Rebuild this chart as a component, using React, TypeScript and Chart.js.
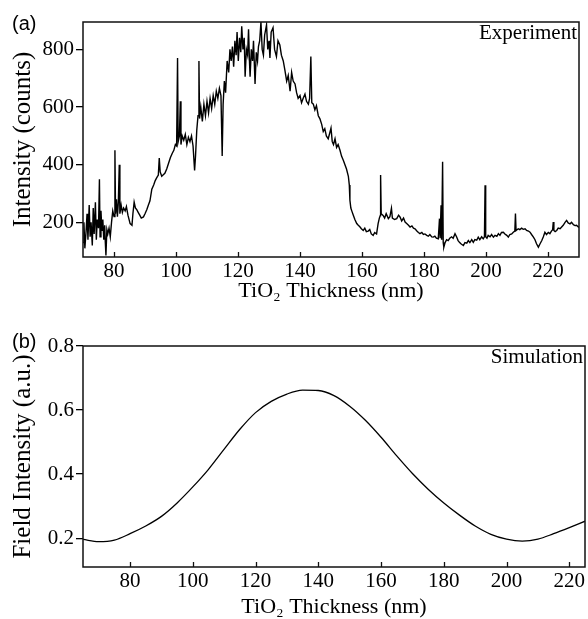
import React, { useEffect, useRef } from 'react';
import { Chart, registerables } from 'chart.js';

Chart.register(...registerables);

// ---------- Data ----------
const expX = [
  70, 70.3, 70.6, 71, 71.3, 71.6, 72, 72.3, 72.6, 73, 73.3, 73.6, 74, 74.3, 74.6, 75, 75.3, 75.5, 75.8, 76.1,
  76.4, 76.7, 77, 77.2, 77.4, 77.7, 78, 78.4, 78.8, 79.2, 79.6, 80, 80.3, 80.5, 80.8, 81.1, 81.4, 81.7, 81.9, 82.3,
  82.7, 83.1, 83.6, 84, 84.5, 85.2, 85.8, 86.1, 86.5, 86.9, 87.3, 87.8, 88.3, 88.8, 89.5, 90, 90.6, 91.1, 91.6, 92.2,
  92.8, 93.3, 93.8, 94.3, 94.6, 94.9, 95.4, 95.9, 96.4, 97, 97.6, 98.2, 98.8, 99.3, 99.8, 100.2, 100.5, 100.7, 101.1, 101.4,
  101.6, 102, 102.5, 103, 103.5, 104, 104.5, 105, 105.5, 106, 106.3, 106.7, 107.1, 107.4, 107.6, 108, 108.5, 109, 109.5, 110,
  110.5, 111, 111.5, 112, 112.5, 113, 113.5, 114, 114.5, 114.9, 115.2, 115.6, 116, 116.5, 117, 117.4, 117.8, 118.2, 118.6, 119,
  119.4, 119.7, 120.1, 120.5, 120.9, 121.2, 121.6, 122, 122.3, 122.7, 123.1, 123.4, 123.7, 123.9, 124.3, 124.7, 125, 125.5, 125.9, 126.3,
  126.6, 127, 127.4, 127.8, 128.2, 128.6, 129.2, 129.6, 130, 130.3, 130.7, 131.3, 131.8, 132.4, 132.9, 133.5, 134, 134.6, 135.1, 135.7,
  136.2, 136.8, 137.3, 137.8, 138.4, 138.9, 139.4, 140, 140.5, 141, 141.6, 142.1, 142.7, 143.1, 143.5, 143.8, 144.3, 144.8, 145.3, 145.9,
  146.4, 147, 147.5, 148, 148.5, 149.1, 149.6, 150, 150.4, 150.8, 151.3, 151.8, 152.3, 152.9, 153.4, 154, 154.5, 155, 155.6, 155.9,
  156.1, 156.4, 156.7, 157.2, 157.7, 158.3, 158.8, 159.3, 159.8, 160.4, 160.9, 161.4, 162, 162.5, 163, 163.6, 164.1, 164.7, 165.2, 165.6,
  165.9, 166, 166.2, 166.8, 167.3, 167.8, 168.5, 169, 169.5, 169.8, 170.5, 171.2, 171.8, 172.3, 172.8, 173.4, 173.9, 174.5, 175, 175.5,
  176.1, 176.6, 177.1, 177.7, 178.2, 178.7, 179.3, 179.8, 180.3, 180.9, 181.4, 181.9, 182.5, 183, 183.5, 184, 184.6, 185, 185.2, 185.5,
  185.7, 186, 186.2, 186.4, 186.8, 187.3, 187.8, 188.3, 188.9, 189.4, 190, 190.5, 191, 191.5, 192, 192.7, 193.2, 193.8, 194.3, 194.8,
  195.4, 195.9, 196.4, 197, 197.5, 198, 198.6, 199.1, 199.5, 199.7, 199.9, 200.3, 200.7, 201.3, 201.8, 202.4, 202.9, 203.5, 204, 204.5,
  205, 205.6, 206.1, 206.7, 207.2, 207.7, 208.3, 208.8, 209.3, 209.5, 209.7, 210.4, 210.9, 211.5, 212, 212.6, 213.1, 213.7, 214.2, 214.7,
  215.3, 215.8, 216.3, 216.9, 217.4, 218, 218.5, 219, 219.5, 220.1, 220.6, 221.1, 221.5, 221.7, 221.9, 222.3, 222.8, 223.3, 223.9, 224.4,
  224.9, 225.5, 226, 226.5, 227.1, 227.6, 228.2, 228.7, 229.2, 229.8, 230,
];
const expY = [
  130, 200, 110, 170, 230, 140, 260, 150, 200, 120, 250, 160, 270, 140, 210, 180, 350, 150, 240, 170,
  210, 140, 190, 130, 85, 175, 160, 180, 150, 200, 240, 220, 450, 230, 280, 220, 270, 400, 230, 260,
  235, 250, 240, 255, 225, 196, 190, 230, 270, 250, 245, 235, 225, 215, 219, 230, 245, 260, 275, 315,
  330, 345, 355, 364, 423, 375, 360, 365, 370, 385, 405, 425, 440, 450, 470, 465, 770, 480, 500, 620,
  470, 500, 485, 505, 470, 495, 480, 500, 465, 380, 430, 520, 570, 760, 560, 600, 550, 610, 570, 620,
  580, 630, 595, 640, 610, 655, 630, 665, 640, 430, 610, 690, 650, 760, 720, 800, 760, 810, 740, 830,
  780, 860, 760, 840, 790, 880, 800, 840, 705, 800, 780, 870, 760, 705, 800, 760, 830, 680, 790, 760,
  810, 830, 895, 800, 780, 850, 885, 800, 830, 770, 860, 875, 800, 775, 830, 815, 780, 760, 730, 690,
  710, 655, 720, 690, 680, 650, 630, 640, 615, 630, 645, 620, 610, 630, 775, 615, 610, 590, 605, 570,
  560, 540, 515, 525, 500, 490, 510, 527, 480, 470, 490, 460, 470, 450, 430, 415, 400, 385, 360, 330,
  277, 250, 240, 225, 210, 196, 190, 185, 178, 172, 180, 168, 170, 175, 160, 155, 165, 160, 196, 215,
  224, 364, 230, 224, 215, 230, 213, 220, 249, 215, 210, 213, 225, 218, 205, 215, 201, 195, 190, 184,
  188, 180, 178, 170, 165, 161, 165, 158, 160, 155, 152, 158, 150, 149, 152, 145, 143, 213, 145, 259,
  140, 410, 130, 114, 130, 140, 137, 145, 150, 145, 161, 150, 137, 130, 125, 120, 130, 128, 137, 130,
  140, 131, 140, 138, 149, 140, 150, 143, 150, 329, 150, 145, 155, 150, 158, 149, 155, 152, 161, 155,
  165, 166, 160, 155, 149, 158, 160, 166, 170, 231, 172, 178, 175, 180, 176, 178, 172, 170, 166, 158,
  149, 140, 126, 114, 125, 137, 150, 166, 158, 165, 161, 170, 175, 201, 172, 168, 172, 180, 178, 184,
  190, 200, 207, 198, 195, 200, 192, 189, 190, 184, 186,
];

const simX = [65, 70, 75, 80, 85, 90, 95, 100, 105, 110, 115, 120, 125, 130, 135, 140, 145, 150, 155, 160, 165, 170, 175, 180, 185, 190, 195, 200, 205, 210, 215, 220, 225];
const simY = [0.196, 0.189, 0.194, 0.214, 0.238, 0.268, 0.31, 0.36, 0.415, 0.478, 0.54, 0.592, 0.627, 0.65, 0.662, 0.661, 0.645, 0.612, 0.568, 0.515, 0.457, 0.402, 0.353, 0.31, 0.272, 0.238, 0.212, 0.197, 0.191, 0.197, 0.214, 0.233, 0.253];

const topXTicks = [80, 100, 120, 140, 160, 180, 200, 220];
const topYTicks = [200, 400, 600, 800];
const botXTicks = [80, 100, 120, 140, 160, 180, 200, 220];
const botYTicks = [0.2, 0.4, 0.6, 0.8];

const SERIF = '"Liberation Serif", "Times New Roman", serif';
const SANS = '"Liberation Sans", Arial, sans-serif';

const framePlugin = {
  id: 'frame',
  afterDraw(chart: any, _args: any, opts: any) {
    const { ctx, chartArea: a } = chart;
    ctx.save();
    const xs = chart.scales.x;
    ctx.strokeStyle = '#111';
    ctx.lineWidth = 1.3;
    xs.ticks.forEach((t: any) => {
      const px = Math.round(xs.getPixelForValue(t.value)) + 0.5;
      ctx.beginPath();
      ctx.moveTo(px, a.bottom);
      ctx.lineTo(px, a.bottom - 5);
      ctx.stroke();
    });
    ctx.lineWidth = 1.5;
    ctx.strokeRect(a.left, a.top, a.right - a.left, a.bottom - a.top);
    ctx.fillStyle = '#000';
    ctx.font = `21px ${SERIF}`;
    ctx.textAlign = 'right';
    ctx.textBaseline = 'alphabetic';
    ctx.fillText(opts.corner, a.right - 2, a.top + opts.cornerDy);
    ctx.font = `20px ${SANS}`;
    ctx.textAlign = 'left';
    ctx.fillText(opts.panel, 12, opts.panelY);
    ctx.restore();
  },
};

function tickFont(size: number) {
  return { family: SERIF, size };
}

function makeConfig(p: any) {
  return {
    type: 'line',
    data: {
      datasets: [
        {
          data: p.xs.map((x: number, i: number) => ({ x, y: p.ys[i] })),
          borderColor: '#000',
          borderWidth: p.lineWidth,
          pointRadius: 0,
          tension: 0,
          cubicInterpolationMode: p.smooth ? 'monotone' : 'default',
          fill: false,
        },
      ],
    },
    options: {
      responsive: false,
      animation: false,
      devicePixelRatio: 1,
      layout: { padding: { top: p.padTop, right: p.padRight, left: 0, bottom: 0 }, autoPadding: false },
      plugins: {
        legend: { display: false },
        tooltip: { enabled: false },
        frame: { corner: p.corner, cornerDy: p.cornerDy, panel: p.panel, panelY: p.panelY },
      },
      scales: {
        x: {
          type: 'linear',
          min: p.xMin,
          max: p.xMax,
          afterBuildTicks: (s: any) => {
            s.ticks = p.xTicks.map((v: number) => ({ value: v }));
          },
          afterFit: (s: any) => {
            s.height = p.xHeight;
          },
          grid: { display: false, drawTicks: false },
          border: { display: false },
          ticks: { color: '#000', font: tickFont(21), padding: 2, maxRotation: 0, autoSkip: false },
          title: {
            display: true,
            text: 'TiO₂ Thickness (nm)',
            color: '#000',
            font: { family: SERIF, size: 22, lineHeight: 1.1 },
            padding: { top: 0, bottom: p.xTitlePad },
          },
        },
        y: {
          type: 'linear',
          min: p.yMin,
          max: p.yMax,
          afterBuildTicks: (s: any) => {
            s.ticks = p.yTicks.map((v: number) => ({ value: v }));
          },
          afterFit: (s: any) => {
            s.width = 83;
          },
          grid: { drawOnChartArea: false, drawTicks: true, tickLength: 7, color: '#000', lineWidth: 1.3 },
          border: { display: false },
          ticks: {
            color: '#000',
            font: tickFont(21),
            padding: 2,
            callback: (v: number) => (p.yDecimals ? Number(v).toFixed(p.yDecimals) : String(v)),
          },
          title: {
            display: true,
            text: p.yTitle,
            color: '#000',
            font: { family: SERIF, size: 25, lineHeight: 1.1 },
            padding: { top: 10, bottom: 0 },
          },
        },
      },
    },
    plugins: [framePlugin],
  };
}

export default function App() {
  const topRef = useRef<HTMLCanvasElement>(null);
  const botRef = useRef<HTMLCanvasElement>(null);

  useEffect(() => {
    const top = new Chart(
      topRef.current as HTMLCanvasElement,
      makeConfig({
        xs: expX,
        ys: expY,
        lineWidth: 1.4,
        smooth: false,
        padTop: 22,
        padRight: 9,
        xMin: 70,
        xMax: 230,
        yMin: 80,
        yMax: 895,
        xTicks: topXTicks,
        yTicks: topYTicks,
        yDecimals: 0,
        xHeight: 53,
        xTitlePad: 7,
        yTitle: 'Intensity (counts)',
        corner: 'Experiment',
        cornerDy: 17,
        panel: '(a)',
        panelY: 30,
      }) as any
    );
    const bot = new Chart(
      botRef.current as HTMLCanvasElement,
      makeConfig({
        xs: simX,
        ys: simY,
        lineWidth: 1.3,
        smooth: true,
        padTop: 36,
        padRight: 3,
        xMin: 65,
        xMax: 225,
        yMin: 0.11,
        yMax: 0.8,
        xTicks: botXTicks,
        yTicks: botYTicks,
        yDecimals: 1,
        xHeight: 52,
        xTitlePad: 0,
        yTitle: 'Field Intensity (a.u.)',
        corner: 'Simulation',
        cornerDy: 17,
        panel: '(b)',
        panelY: 38,
      }) as any
    );
    return () => {
      top.destroy();
      bot.destroy();
    };
  }, []);

  return (
    <div style={{ position: 'absolute', left: 0, top: 0, width: 588, height: 619, background: '#fff' }}>
      <canvas ref={topRef} width={588} height={310} style={{ display: 'block', width: 588, height: 310 }} />
      <canvas ref={botRef} width={588} height={309} style={{ display: 'block', width: 588, height: 309 }} />
    </div>
  );
}
